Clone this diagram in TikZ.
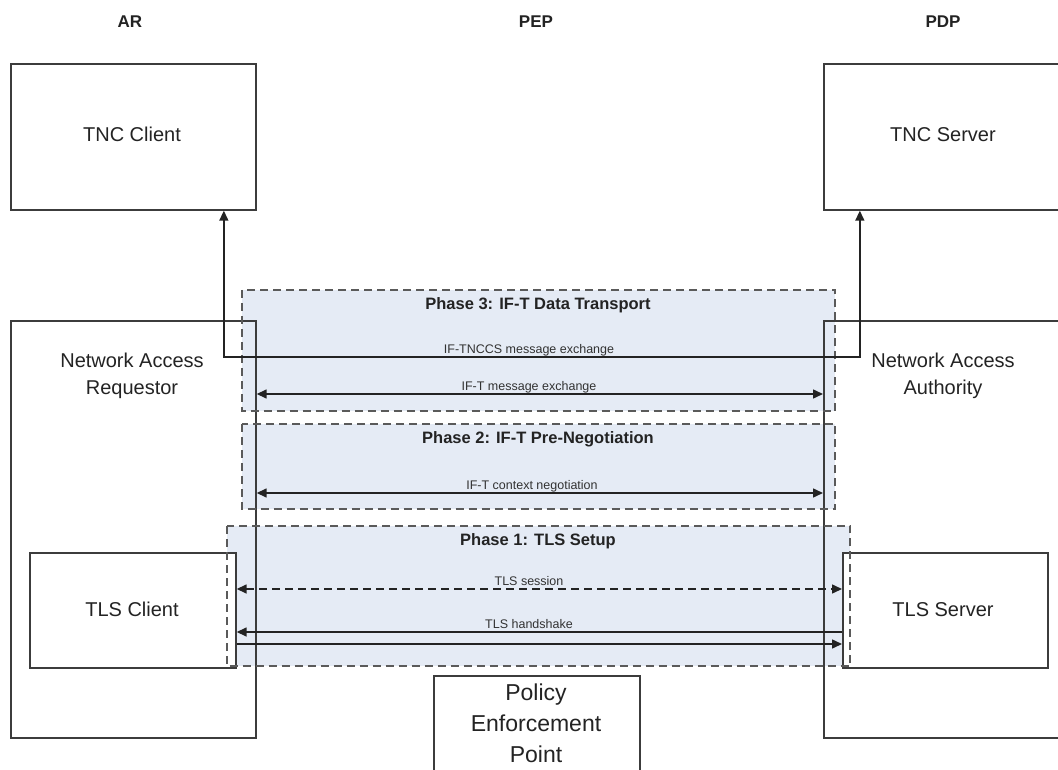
\documentclass[tikz,border=0pt]{standalone}
\usepackage{fontspec}
\setmainfont{Liberation Sans}
\usetikzlibrary{arrows.meta}

\definecolor{edge}{RGB}{60,60,60}
\definecolor{wire}{RGB}{35,35,35}
\definecolor{phasefill}{RGB}{229,235,245}
\definecolor{phaseline}{RGB}{90,90,90}
\definecolor{ink}{RGB}{35,35,35}
\definecolor{note}{RGB}{50,50,50}

\begin{document}
\begin{tikzpicture}[x=1pt,y=-1pt,
  box/.style={draw=edge, line width=1.7pt, inner sep=0pt, anchor=north west},
  whitebox/.style={box, fill=white},
  phasearea/.style={fill=phasefill, draw=none, inner sep=0pt, anchor=north west},
  phaseborder/.style={draw=phaseline, line width=2pt, dash pattern=on 8pt off 5pt},
  boxtext/.style={text=ink, font=\fontsize{20}{27}\selectfont, align=center, inner sep=0pt, anchor=base},
  peptext/.style={text=ink, font=\fontsize{23}{31}\selectfont, align=center, inner sep=0pt, anchor=base},
  header/.style={text=ink, font=\bfseries\fontsize{17}{20}\selectfont, inner sep=0pt, anchor=base},
  phasetitle/.style={text=ink, font=\bfseries\fontsize{16.5}{20}\selectfont, inner sep=0pt, anchor=base},
  msg/.style={text=note, font=\fontsize{12.5}{15}\selectfont, inner sep=0pt, anchor=base},
  wirestyle/.style={draw=wire, line width=1.5pt},
  tip/.style={wirestyle, -{Triangle[length=10pt,width=9pt]}},
  tips/.style={wirestyle, {Triangle[length=10pt,width=9pt]}-{Triangle[length=10pt,width=9pt]}}
]
\useasboundingbox (0,0) rectangle (1058,770);

% column headers
\node[header] (hAR)  at (130,28) {AR};
\node[header] (hPEP) at (536,28) {PEP};
\node[header] (hPDP) at (943,28) {PDP};

% shaded phase areas
\node[phasearea, minimum width=593pt, minimum height=121pt] (ph3) at (242,290) {};
\node[phasearea, minimum width=593pt, minimum height=85pt]  (ph2) at (242,424) {};
\node[phasearea, minimum width=623pt, minimum height=140pt] (ph1) at (227,526) {};

% components
\node[box, minimum width=245pt, minimum height=146pt] (tncc) at (10,63) {};
\node[box, minimum width=245pt, minimum height=146pt] (tncs) at (823,63) {};
\node[box, minimum width=245pt, minimum height=417pt] (nar)  at (10,320) {};
\node[box, minimum width=245pt, minimum height=417pt] (naa)  at (823,320) {};
\node[whitebox, minimum width=206pt, minimum height=115pt] (tlsc) at (29,552) {};
\node[whitebox, minimum width=205pt, minimum height=115pt] (tlss) at (842,552) {};
\node[whitebox, minimum width=206pt, minimum height=130pt] (pep)  at (433,675) {};

\node[boxtext] (tnccText) at (132,142) {TNC Client};
\node[boxtext] (tncsText) at (943,142) {TNC Server};
\node[boxtext, anchor=north] (narText) at (132,353) {Network Access\\Requestor};
\node[boxtext, anchor=north] (naaText) at (943,353) {Network Access\\Authority};
\node[boxtext] (tlscText) at (132,616) {TLS Client};
\node[boxtext] (tlssText) at (943,616) {TLS Server};
\node[peptext, anchor=north] (pepText) at (536,684) {Policy\\Enforcement\\Point};

% dashed phase outlines
\draw[phaseborder] (ph3.north west) rectangle (ph3.south east);
\draw[phaseborder] (ph2.north west) rectangle (ph2.south east);
\draw[phaseborder] (ph1.north west) rectangle (ph1.south east);

\node[phasetitle] (ph3Title) at (538,309) {Phase 3: IF-T Data Transport};
\node[phasetitle] (ph2Title) at (538,443) {Phase 2: IF-T Pre-Negotiation};
\node[phasetitle] (ph1Title) at (538,545.5) {Phase 1: TLS Setup};

% message rows
\coordinate (rowTnccs) at (0,357);
\coordinate (rowIfT)   at (0,394);
\coordinate (rowCtx)   at (0,493);
\coordinate (rowSess)  at (0,589);
\coordinate (rowHsL)   at (0,632);
\coordinate (rowHsR)   at (0,644);

% IF-TNCCS exchange between TNC Client and TNC Server
\draw[tips] ([xshift=90.5pt]tncc.south) -- ([xshift=90.5pt]tncc.south |- rowTnccs)
  -- ([xshift=-86.5pt]tncs.south |- rowTnccs) -- ([xshift=-86.5pt]tncs.south);
\node[msg] (lTnccs) at (529,353) {IF-TNCCS message exchange};

% IF-T exchanges between the access components
\draw[tips] (nar.east |- rowIfT) -- (naa.west |- rowIfT);
\node[msg] (lIfT) at (529,390) {IF-T message exchange};

\draw[tips] (nar.east |- rowCtx) -- (naa.west |- rowCtx);
\node[msg] (lCtx) at (532,489) {IF-T context negotiation};

% TLS between client and server
\draw[tips, dash pattern=on 8pt off 5pt] (tlsc.east |- rowSess) -- (tlss.west |- rowSess);
\node[msg] (lSess) at (529,585) {TLS session};

\draw[tip] (tlss.west |- rowHsL) -- (tlsc.east |- rowHsL);
\draw[tip] (tlsc.east |- rowHsR) -- (tlss.west |- rowHsR);
\node[msg] (lHs) at (529,628) {TLS handshake};

\end{tikzpicture}
\end{document}
